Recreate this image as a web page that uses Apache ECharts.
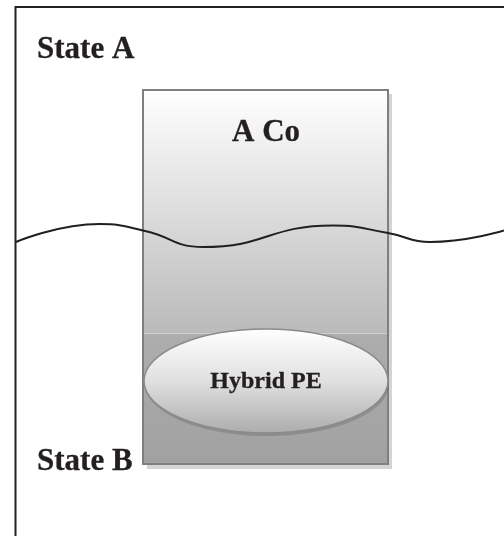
<!DOCTYPE html>
<html><head><meta charset="utf-8">
<script src="https://cdn.jsdelivr.net/npm/echarts@6/dist/echarts.min.js"></script>
<style>html,body{margin:0;padding:0;background:#fff}#c{width:504px;height:536px}</style>
</head><body><div id="c"></div>
<script>
// Diagram labels
var stateLabels = ["State A", "State B"];
var companyLabel = "A Co";
var investorLabel = "Hybrid PE";
// Wavy boundary line (diagram units = pixels of a 504x536 canvas)
var waveX = [16, 100, 145, 203, 333, 388, 430, 504];
var waveY = [242, 224, 231, 247, 225.5, 233, 242, 230.5];

var chart = echarts.init(document.getElementById('c'), null, {renderer: 'canvas'});
var font = '"Liberation Serif","Times New Roman",serif';
var waveData = waveX.map(function (x, i) { return [x, waveY[i]]; });
function txt(x, y, s, size, align) {
  return {type: 'text', z: 10, x: x, y: y, style: {text: s, font: 'bold ' + size + 'px ' + font, fill: '#231f20',
    stroke: '#231f20', lineWidth: 0.3, align: align, textAlign: align, verticalAlign: 'bottom', textVerticalAlign: 'bottom'}};
}

chart.setOption({
  animation: false,
  grid: {left: 0, right: 0, top: 0, bottom: 0},
  xAxis: {type: 'value', min: 0, max: 504, show: false},
  yAxis: {type: 'value', min: 0, max: 536, inverse: true, show: false},
  graphic: [
    // outer frame (top and left edges)
    {type: 'polyline', z: 1, shape: {points: [[15.5, 536], [15.5, 7], [504, 7]]}, style: {stroke: '#222', lineWidth: 2, fill: null}},
    // box shadow
    {type: 'rect', z: 2, shape: {x: 147, y: 94, width: 245, height: 375}, style: {fill: '#d4d4d4'}},
    // upper part of box
    {type: 'rect', z: 3, shape: {x: 143, y: 90, width: 245, height: 243},
      style: {fill: new echarts.graphic.LinearGradient(0, 0, 0, 1, [{offset: 0, color: '#ffffff'}, {offset: 1, color: '#bababa'}])}},
    // lower part of box
    {type: 'rect', z: 3, shape: {x: 143, y: 333, width: 245, height: 131},
      style: {fill: new echarts.graphic.LinearGradient(0, 0, 0, 1, [{offset: 0, color: '#adadad'}, {offset: 1, color: '#a1a1a1'}])}},
    {type: 'line', z: 4, shape: {x1: 143, y1: 333.5, x2: 388, y2: 333.5}, style: {stroke: '#cfcfcf', lineWidth: 1}},
    // box border
    {type: 'rect', z: 5, shape: {x: 143, y: 90, width: 245, height: 374}, style: {fill: null, stroke: '#7f7f7f', lineWidth: 2}},
    // ellipse shadow
    {type: 'ellipse', z: 6, shape: {cx: 267, cy: 384, rx: 122, ry: 52}, style: {fill: 'rgba(90,90,90,0.3)'}},
    // ellipse
    {type: 'ellipse', z: 7, shape: {cx: 266, cy: 381, rx: 122, ry: 52},
      style: {fill: new echarts.graphic.LinearGradient(0, 0, 0, 1, [{offset: 0, color: '#ffffff'}, {offset: 0.5, color: '#e0e0e0'}, {offset: 1, color: '#acacac'}]), stroke: '#8a8a8a', lineWidth: 1.5}},
    // texts
    txt(37, 65, stateLabels[0], 31, 'left'),
    txt(37, 477, stateLabels[1], 31, 'left'),
    txt(266, 148, companyLabel, 31, 'center'),
    txt(266, 394, investorLabel, 24, 'center')
  ],
  series: [{
    type: 'line',
    data: waveData,
    smooth: 0.5,
    symbol: 'none',
    z: 8,
    lineStyle: {color: '#231f20', width: 2},
    silent: true
  }]
});
</script></body></html>
